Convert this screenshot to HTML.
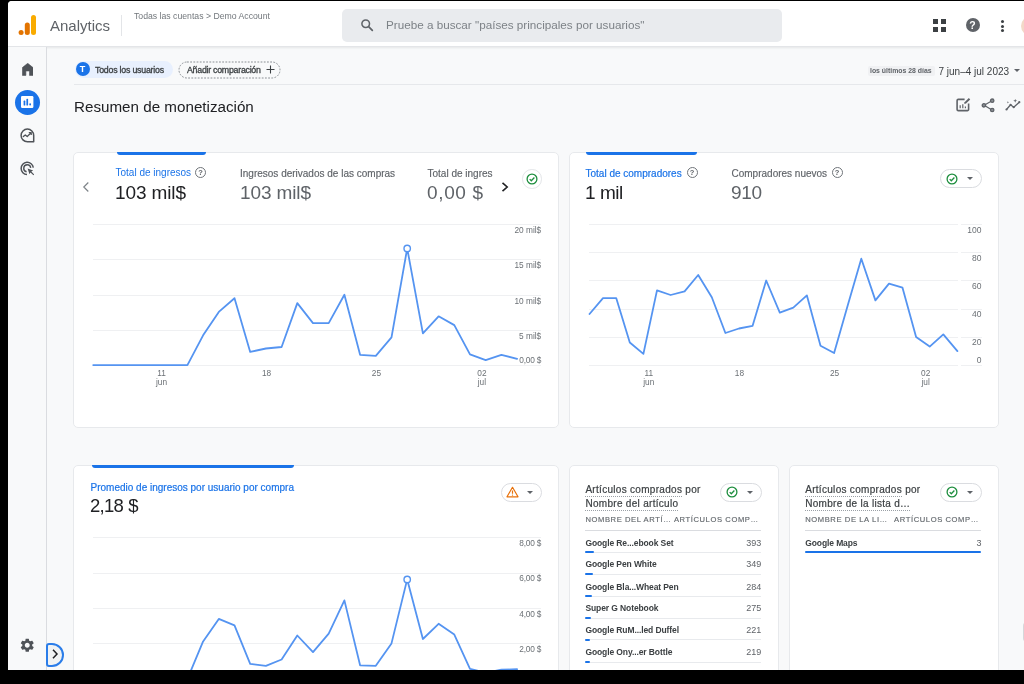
<!DOCTYPE html>
<html lang="es">
<head>
<meta charset="utf-8">
<title>Analytics</title>
<style>
*{box-sizing:border-box;margin:0;padding:0}
html,body{width:1024px;height:684px;overflow:hidden;background:#000;font-family:"Liberation Sans",sans-serif;color:#202124}
.abs{position:absolute}
#app{position:absolute;left:8px;top:1px;width:1036px;height:669px;background:#f8f9fa;border-top-left-radius:4px;overflow:hidden}
#pg{position:absolute;left:-8px;top:-1px;width:1024px;height:684px}
#blur{position:absolute;left:-20px;top:-20px;width:1064px;height:724px;background:#000;filter:blur(.6px)}
#in{position:absolute;left:20px;top:20px;width:1044px;height:704px}
#hdr{position:absolute;left:0;top:0;width:1044px;height:47px;background:#fff;border-bottom:1px solid #e3e5e8;box-shadow:0 1px 2px rgba(60,64,67,.10)}
#side{position:absolute;left:0;top:47px;width:47px;height:640px;background:#f8f9fa;border-right:1px solid #dadce0}
.t{position:absolute;white-space:nowrap;line-height:1}
.card{position:absolute;background:#fff;border:1px solid #e7e9ec;border-radius:5px}
.tab{position:absolute;height:3px;background:#1a73e8;border-radius:0 0 3px 3px}
.gl{position:absolute;height:1px;background:#eff0f2}
.ax{position:absolute;white-space:nowrap;font-size:8.300px;line-height:1;color:#6b7075}
.axr{text-align:right}
.axc{text-align:center;width:30px;margin-left:-15px}
.pill{position:absolute;border:1px solid #dadce0;border-radius:10px;background:#fff}
.caret{position:absolute;width:0;height:0;border-left:3px solid transparent;border-right:3px solid transparent;border-top:3.5px solid #5f6368}
.row{position:absolute;font-size:9px;line-height:1;color:#202124;white-space:nowrap}
.sep{position:absolute;height:1px;background:#e8eaed}
.bar{position:absolute;height:2px;background:#1a73e8;border-radius:1px}
.help{position:absolute;width:11px;height:11px;border-radius:50%;border:1px solid #70757a}
.help:after{content:"?";position:absolute;left:0;top:0;width:9px;height:9px;text-align:center;font-size:7.500px;line-height:9.500px;color:#5f6368;font-weight:bold}
.ttl{font-size:10px;color:#3c4043;letter-spacing:.3px;-webkit-text-stroke:.2px #3c4043}
.ttl u{text-decoration:none;border-bottom:1px dotted #9aa0a6;padding-bottom:1px}
.th{font-size:7.600px;color:#63686d;letter-spacing:.6px;-webkit-text-stroke:.15px #63686d}
.rn{font-weight:bold;font-size:8.500px;color:#3c4043;letter-spacing:-.1px}
.rv{font-size:9px;color:#5f6368}
</style>
</head>
<body>
<div id="blur"><div id="in">
<div id="app"><div id="pg">
<!-- HEADER -->
<div id="hdr">
  <svg class="abs" style="left:18px;top:14px" width="20" height="22" viewBox="0 0 20 22">
    <rect x="13" y="1" width="5" height="20" rx="2.500" fill="#f9ab00"/>
    <rect x="6.800" y="8.500" width="5" height="12.500" rx="2.500" fill="#e37400"/>
    <circle cx="3.100" cy="18.500" r="2.500" fill="#e37400"/>
  </svg>
  <div class="t" style="left:50px;top:18px;font-size:15px;color:#5f6368">Analytics</div>
  <div class="abs" style="left:121px;top:15px;width:1px;height:21px;background:#e3e5e8"></div>
  <div class="t" style="left:134px;top:12px;font-size:8.700px;color:#72777c">Todas las cuentas &gt; Demo Account</div>
  <div class="abs" style="left:342px;top:9px;width:440px;height:33px;background:#e9ebee;border-radius:5px"></div>
  <svg class="abs" style="left:360px;top:18px" width="14.500" height="14.500" viewBox="0 0 16 16"><circle cx="6.3" cy="6.3" r="4.2" fill="none" stroke="#5f6368" stroke-width="1.7"/><path d="M9.5 9.5 L13.6 13.6" stroke="#5f6368" stroke-width="1.9" stroke-linecap="round"/></svg>
  <div class="t" style="left:386px;top:19px;font-size:11.700px;color:#7d8287">Pruebe a buscar "países principales por usuarios"</div>
  <!-- apps grid -->
  <svg class="abs" style="left:933px;top:19px" width="13" height="13" viewBox="0 0 13 13"><g fill="#3c4043"><rect x="0" y="0" width="5" height="5"/><rect x="8" y="0" width="5" height="5"/><rect x="0" y="8" width="5" height="5"/><rect x="8" y="8" width="5" height="5"/></g></svg>
  <!-- help -->
  <div class="abs" style="left:965.5px;top:18px;width:14px;height:14px;border-radius:50%;background:#5f6368"></div>
  <div class="t" style="left:965.5px;top:20px;width:14px;text-align:center;font-size:10.5px;font-weight:bold;color:#fff">?</div>
  <!-- dots -->
  <div class="abs" style="left:1001.2px;top:20.1px;width:3px;height:3px;border-radius:50%;background:#3c4043"></div>
  <div class="abs" style="left:1001.2px;top:24.5px;width:3px;height:3px;border-radius:50%;background:#3c4043"></div>
  <div class="abs" style="left:1001.2px;top:28.9px;width:3px;height:3px;border-radius:50%;background:#3c4043"></div>
  <div class="abs" style="left:1021px;top:16px;width:20px;height:20px;border-radius:50%;background:#f3d9c8"></div>
</div>
<!-- SIDEBAR -->
<div id="side"></div>
<!-- home -->
<svg class="abs" style="left:21.700px;top:63px" width="11.400" height="13" viewBox="0 0 12 13" preserveAspectRatio="none"><path d="M6 0.3 L11.6 4.6 V12.4 H7.9 V8 H4.1 V12.4 H0.4 V4.6 Z" fill="#4f5358" stroke="#4f5358" stroke-width=".6" stroke-linejoin="round"/></svg>
<!-- reports active -->
<div class="abs" style="left:15px;top:89.6px;width:25px;height:25px;border-radius:50%;background:#1a73e8"></div>
<svg class="abs" style="left:21.3px;top:95.8px" width="12.4" height="12" viewBox="0 0 12.4 12"><rect x="0" y="0" width="12.4" height="12" rx="1.2" fill="#fff"/><rect x="2.6" y="4.6" width="1.7" height="4.9" rx=".6" fill="#1a73e8"/><rect x="5.4" y="2.8" width="1.7" height="6.7" rx=".6" fill="#1a73e8"/><rect x="8.3" y="7.2" width="1.7" height="2.3" rx=".8" fill="#1a73e8"/></svg>
<!-- explore -->
<svg class="abs" style="left:20px;top:127.6px" width="15" height="15" viewBox="0 0 15 15"><path d="M7.4 1.1 A6.3 6.3 0 1 0 7.4 13.7 H13.7 V7.4 A6.3 6.3 0 0 0 7.4 1.1 Z" fill="none" stroke="#4f5358" stroke-width="1.500" stroke-linejoin="round"/><path d="M3.3 8.6 L5.3 6.9 L7.2 8.5 L10.6 5.2" fill="none" stroke="#4f5358" stroke-width="1.3" stroke-linecap="round" stroke-linejoin="round"/><path d="M8.8 4.6 H11.2 V7" fill="none" stroke="#4f5358" stroke-width="1.3" stroke-linejoin="round"/></svg>
<!-- advertising -->
<svg class="abs" style="left:20px;top:160.5px" width="15" height="15" viewBox="0 0 15 15"><path d="M13.300 6.700 A6.100 6.100 0 1 0 7 13.500" fill="none" stroke="#4f5358" stroke-width="1.500"/><path d="M10.700 6.800 A3.500 3.500 0 1 0 6.600 10.700" fill="none" stroke="#4f5358" stroke-width="1.400"/><path d="M7.6 7.6 L13.2 9.6 L11.3 10.6 L14.2 13.5 L13.4 14.3 L10.5 11.4 L9.5 13.2 Z" fill="#4f5358"/></svg>
<!-- gear -->
<svg class="abs" style="left:19.150px;top:636.750px" width="16.500" height="16.500" viewBox="0 0 24 24"><path fill="#4f5358" d="M19.14 12.94c.04-.3.06-.61.06-.94 0-.32-.02-.64-.07-.94l2.03-1.58a.49.49 0 0 0 .12-.61l-1.92-3.32a.488.488 0 0 0-.59-.22l-2.39.96c-.5-.38-1.03-.7-1.62-.94l-.36-2.54a.484.484 0 0 0-.48-.41h-3.84c-.24 0-.43.17-.47.41l-.36 2.54c-.59.24-1.13.57-1.62.94l-2.39-.96c-.22-.08-.47 0-.59.22L2.74 8.87c-.12.21-.08.47.12.61l2.03 1.58c-.05.3-.09.63-.09.94s.02.64.07.94l-2.03 1.58a.49.49 0 0 0-.12.61l1.92 3.32c.12.22.37.29.59.22l2.39-.96c.5.38 1.03.7 1.62.94l.36 2.54c.05.24.24.41.48.41h3.84c.24 0 .44-.17.47-.41l.36-2.54c.59-.24 1.13-.56 1.62-.94l2.39.96c.22.08.47 0 .59-.22l1.92-3.32c.12-.22.07-.47-.12-.61l-2.01-1.58zM12 15.6c-1.98 0-3.600-1.62-3.600-3.600s1.620-3.600 3.600-3.600 3.600 1.620 3.600 3.600-1.620 3.600-3.600 3.600z"/></svg>
<!-- collapse -->
<div class="abs" style="left:46px;top:643px;width:18px;height:23.5px;border:2px solid #2b7de9;border-radius:3px 12px 12px 3px;background:#f1f3f4"></div>
<svg class="abs" style="left:51px;top:648px" width="8" height="12" viewBox="0 0 8 12"><path d="M2 1.8 L6 6 L2 10.2" fill="none" stroke="#202124" stroke-width="1.5"/></svg>

<!-- TOOLBAR -->
<div class="abs" style="left:75px;top:61px;width:98px;height:16.5px;border-radius:9px;background:#e8f0fe"></div>
<div class="abs" style="left:75.5px;top:62px;width:14px;height:14px;border-radius:50%;background:#1a73e8"></div>
<div class="t" style="left:75.500px;top:64.800px;width:14px;text-align:center;font-size:9px;font-weight:bold;color:#fff">T</div>
<div class="t" id="tu" style="left:95px;top:65.600px;font-size:8.800px;color:#3c4043;letter-spacing:-.22px;-webkit-text-stroke:.3px #3c4043">Todos los usuarios</div>
<svg class="abs" style="left:177.500px;top:60.500px" width="104" height="18" viewBox="0 0 104 18"><rect x="1" y="1" width="101" height="16" rx="8" fill="none" stroke="#8a8f94" stroke-width="1" stroke-dasharray="1.800 1.400"/></svg>
<div class="t" id="ac" style="left:187px;top:65.600px;font-size:8.800px;color:#3c4043;letter-spacing:-.255px;-webkit-text-stroke:.3px #3c4043">Añadir comparación</div>
<svg class="abs" style="left:266px;top:64.5px" width="9" height="9" viewBox="0 0 9 9"><path d="M4.5 0.5 V8.5 M0.5 4.5 H8.5" stroke="#3c4043" stroke-width="1.1"/></svg>
<div class="abs" style="left:867.5px;top:65.5px;width:67px;height:10.5px;background:#f0f1f3;border-radius:2px"></div>
<div class="t" style="left:870px;top:67.5px;font-size:6.900px;font-weight:bold;color:#5f6368">los últimos 28 días</div>
<div class="t" style="left:938.5px;top:66.700px;font-size:10px;color:#3c4043">7 jun–4 jul 2023</div>
<div class="caret" style="left:1013.6px;top:69px"></div>
<div class="abs" style="left:74px;top:84px;width:980px;height:1px;background:#e6e8eb"></div>
<div class="t" style="left:74px;top:99px;font-size:15.200px;color:#202124">Resumen de monetización</div>
<!-- title icons -->
<svg class="abs" style="left:956px;top:97px" width="15" height="15" viewBox="0 0 15 15"><path d="M8.6 2.4 H2.3 A1.2 1.2 0 0 0 1.1 3.600 V12.400 A1.200 1.200 0 0 0 2.300 13.600 H11.400 A1.200 1.200 0 0 0 12.600 12.400 V6.600" fill="none" stroke="#5f6368" stroke-width="1.600"/><path d="M4.200 11.200 V8.300 M6.800 11.200 V7.200 M9.400 11.200 V9.500" stroke="#5f6368" stroke-width="1.2"/><path d="M8.300 6.900 L8.600 5.200 L12.800 1 L14.200 2.400 L10 6.600 Z" fill="#5f6368"/></svg>
<svg class="abs" style="left:981px;top:97.500px" width="14" height="15" viewBox="0 0 14 15"><path d="M11 2.800 L3.200 7.300 L11 11.900" fill="none" stroke="#5f6368" stroke-width="1.200"/><circle cx="11.200" cy="2.700" r="1.700" fill="#8a8f94" stroke="#5f6368" stroke-width="1.300"/><circle cx="2.900" cy="7.300" r="1.700" fill="#8a8f94" stroke="#5f6368" stroke-width="1.300"/><circle cx="11.200" cy="12" r="1.700" fill="#8a8f94" stroke="#5f6368" stroke-width="1.300"/></svg>
<svg class="abs" style="left:1005px;top:98px" width="16" height="14" viewBox="0 0 16 14"><path d="M1.500 11.500 L5.600 6.800 L8.700 9.200 L14.300 4.200" fill="none" stroke="#5f6368" stroke-width="1.300" stroke-linejoin="round"/><circle cx="1.500" cy="11.500" r="1.100" fill="#5f6368"/><circle cx="5.600" cy="6.800" r="1.100" fill="#5f6368"/><circle cx="8.700" cy="9.200" r="1.100" fill="#5f6368"/><circle cx="14.300" cy="4.200" r="1.100" fill="#5f6368"/><path d="M10.200 0.800 L10.700 2.300 L12.200 2.800 L10.700 3.300 L10.200 4.800 L9.700 3.300 L8.200 2.800 L9.700 2.300 Z" fill="#5f6368"/><path d="M2.900 3 L3.200 3.900 L4.100 4.200 L3.200 4.500 L2.900 5.400 L2.600 4.500 L1.700 4.200 L2.600 3.900 Z" fill="#5f6368"/></svg>
<!-- CARDS -->
<div class="card" style="left:73px;top:152px;width:486px;height:276px"></div>
<div class="tab" style="left:116.5px;top:151.5px;width:89px"></div>
<svg class="abs" style="left:82px;top:181px" width="8" height="12" viewBox="0 0 8 12"><path d="M6.3 1.5 L1.8 6 L6.3 10.500" fill="none" stroke="#80868b" stroke-width="1.200"/></svg>
<div class="t" style="left:115.5px;top:167.5px;font-size:10px;color:#1a73e8">Total de ingresos</div>
<div class="help" style="left:195px;top:167px"></div>
<div class="t" style="left:115px;top:182.500px;font-size:19px;letter-spacing:-.12px;color:#202124">103 mil$</div>
<div class="t" style="left:240px;top:168.900px;font-size:10px;-webkit-text-stroke:.15px #5f6368;color:#5f6368">Ingresos derivados de las compras</div>
<div class="t" style="left:240px;top:182.500px;font-size:19px;letter-spacing:-.12px;color:#5f6368">103 mil$</div>
<div class="t" style="left:427.500px;top:168.900px;font-size:10px;-webkit-text-stroke:.15px #5f6368;color:#5f6368">Total de ingres</div>
<div class="t" style="left:427px;top:182.500px;font-size:19px;letter-spacing:.65px;color:#5f6368">0,00 $</div>
<svg class="abs" style="left:500px;top:181px" width="10" height="12" viewBox="0 0 10 12"><path d="M2.500 1.800 L7.200 6 L2.500 10.200" fill="none" stroke="#202124" stroke-width="1.600"/></svg>
<div class="abs" style="left:522px;top:169px;width:19.500px;height:19.500px;border-radius:50%;border:1px solid #e3e5e8;background:#fff"></div>
<svg class="abs chk" style="left:525.700px;top:172.700px" width="12" height="12" viewBox="0 0 12 12"><circle cx="6" cy="6" r="4.900" fill="none" stroke="#1e8e3e" stroke-width="1.300"/><path d="M3.700 6.100 L5.300 7.700 L8.400 4.500" fill="none" stroke="#1e8e3e" stroke-width="1.300"/></svg>
<div class="gl" style="left:93px;top:224.0px;width:448px"></div>
<div class="gl" style="left:93px;top:259.3px;width:448px"></div>
<div class="gl" style="left:93px;top:294.6px;width:448px"></div>
<div class="gl" style="left:93px;top:329.9px;width:448px"></div>
<div class="gl" style="left:93px;top:365.1px;width:448px"></div>
<div class="ax axr" style="right:482.8px;top:225.8px;letter-spacing:0">20 mil$</div>
<div class="ax axr" style="right:482.8px;top:261.0px;letter-spacing:0">15 mil$</div>
<div class="ax axr" style="right:482.8px;top:296.5px;letter-spacing:0">10 mil$</div>
<div class="ax axr" style="right:482.8px;top:331.8px;letter-spacing:0">5 mil$</div>
<div class="ax axr" style="right:482.8px;top:355.7px;letter-spacing:-.2px">0,00 $</div>
<div class="ax axc" style="left:161.5px;top:369px">11</div>
<div class="ax axc" style="left:161.5px;top:377.800px">jun</div>
<div class="ax axc" style="left:266.5px;top:369px">18</div>
<div class="ax axc" style="left:376.4px;top:369px">25</div>
<div class="ax axc" style="left:481.9px;top:369px">02</div>
<div class="ax axc" style="left:481.9px;top:377.800px">jul</div>
<svg class="abs" style="left:0;top:0" width="1024" height="684">
<polyline points="93.2,365.1 108.9,365.1 124.6,365.1 140.3,365.1 156.0,365.1 171.7,365.1 187.4,365.1 203.1,335.3 218.8,311.9 234.5,298.2 250.2,351.9 265.9,348.5 281.6,347.0 297.3,303.1 313.0,323.1 328.7,323.1 344.4,294.8 360.1,354.8 375.8,355.8 391.5,337.3 407.2,248.4 422.9,333.4 438.6,316.3 454.3,325.1 470.0,354.4 485.7,360.2 501.4,354.8 517.1,358.8" fill="none" stroke="#5594f1" stroke-width="1.8" stroke-linejoin="round" stroke-linecap="round"/>
<circle cx="407.2" cy="248.4" r="3.2" fill="#fff" stroke="#5594f1" stroke-width="1.400"/>
</svg>
<div class="card" style="left:569px;top:152px;width:430px;height:276px"></div>
<div class="tab" style="left:586px;top:151.500px;width:111px"></div>
<div class="t" style="left:585.500px;top:168.900px;font-size:10px;-webkit-text-stroke:.2px #1a73e8;color:#1a73e8">Total de compradores</div>
<div class="help" style="left:686.500px;top:167px"></div>
<div class="t" style="left:585px;top:182.500px;font-size:19px;letter-spacing:-.45px;color:#202124">1 mil</div>
<div class="t" style="left:731.500px;top:168.900px;font-size:10px;-webkit-text-stroke:.15px #5f6368;color:#5f6368">Compradores nuevos</div>
<div class="help" style="left:831.500px;top:167px"></div>
<div class="t" style="left:731px;top:182.500px;font-size:19px;letter-spacing:-.3px;color:#5f6368">910</div>
<div class="pill" style="left:940px;top:169px;width:41.500px;height:19px"></div>
<svg class="abs chk" style="left:945.500px;top:172.500px" width="12" height="12" viewBox="0 0 12 12"><circle cx="6" cy="6" r="4.900" fill="none" stroke="#1e8e3e" stroke-width="1.300"/><path d="M3.700 6.100 L5.300 7.700 L8.400 4.500" fill="none" stroke="#1e8e3e" stroke-width="1.300"/></svg>
<div class="caret" style="left:966.500px;top:177px"></div>
<div class="gl" style="left:588.500px;top:224.2px;width:369.500px"></div>
<div class="gl" style="left:961px;top:224.2px;width:20.500px"></div>
<div class="gl" style="left:588.500px;top:252.3px;width:369.500px"></div>
<div class="gl" style="left:961px;top:252.3px;width:20.500px"></div>
<div class="gl" style="left:588.500px;top:280.4px;width:369.500px"></div>
<div class="gl" style="left:961px;top:280.4px;width:20.500px"></div>
<div class="gl" style="left:588.500px;top:308.5px;width:369.500px"></div>
<div class="gl" style="left:961px;top:308.5px;width:20.500px"></div>
<div class="gl" style="left:588.500px;top:336.6px;width:369.500px"></div>
<div class="gl" style="left:961px;top:336.6px;width:20.500px"></div>
<div class="gl" style="left:588.500px;top:364.7px;width:369.500px"></div>
<div class="gl" style="left:961px;top:364.7px;width:20.500px"></div>
<div class="ax axr" style="right:42.6px;top:225.5px;font-size:8.500px">100</div>
<div class="ax axr" style="right:42.6px;top:254.1px;font-size:8.500px">80</div>
<div class="ax axr" style="right:42.6px;top:282.2px;font-size:8.500px">60</div>
<div class="ax axr" style="right:42.6px;top:310.2px;font-size:8.500px">40</div>
<div class="ax axr" style="right:42.6px;top:338.3px;font-size:8.500px">20</div>
<div class="ax axr" style="right:42.6px;top:355.6px;font-size:8.500px">0</div>
<div class="ax axc" style="left:648.8px;top:369px">11</div>
<div class="ax axc" style="left:648.8px;top:377.800px">jun</div>
<div class="ax axc" style="left:739.4px;top:369px">18</div>
<div class="ax axc" style="left:834.6px;top:369px">25</div>
<div class="ax axc" style="left:925.7px;top:369px">02</div>
<div class="ax axc" style="left:925.7px;top:377.800px">jul</div>
<svg class="abs" style="left:0;top:0" width="1024" height="684"><polyline points="589.5,314.0 603.0,298.1 616.2,298.1 629.8,342.5 643.4,353.9 657.0,290.4 670.6,295.0 684.6,291.3 698.2,275.0 711.8,297.2 725.4,333.0 739.0,328.5 752.6,325.8 766.2,280.5 779.8,312.6 793.3,307.6 806.9,295.4 820.5,345.7 834.1,353.0 847.7,305.4 861.3,258.7 875.4,300.4 889.0,283.6 902.5,287.7 916.1,337.1 929.7,346.6 943.3,334.4 957.4,351.1" fill="none" stroke="#5594f1" stroke-width="1.8" stroke-linejoin="round" stroke-linecap="round"/></svg>
<div class="card" style="left:73px;top:465px;width:486px;height:276px"></div>
<div class="tab" style="left:91.700px;top:464.500px;width:202.500px"></div>
<div class="t" style="left:90.500px;top:482.600px;font-size:10px;-webkit-text-stroke:.2px #1a73e8;color:#1a73e8">Promedio de ingresos por usuario por compra</div>
<div class="t" style="left:90px;top:496.800px;font-size:18.500px;word-spacing:.5px;letter-spacing:-.7px;color:#202124">2,18 $</div>
<div class="pill" style="left:500.500px;top:482.500px;width:41px;height:19px"></div>
<svg class="abs" style="left:505.500px;top:485.500px" width="13" height="12" viewBox="0 0 13 12"><path d="M6.500 1.300 L12 10.800 H1 Z" fill="none" stroke="#e8710a" stroke-width="1.200" stroke-linejoin="round"/><path d="M6.500 4.600 V7.700" stroke="#e8710a" stroke-width="1.200"/><circle cx="6.500" cy="9.100" r=".7" fill="#e8710a"/></svg>
<div class="caret" style="left:527px;top:490.500px"></div>
<div class="gl" style="left:93px;top:537.4px;width:448px"></div>
<div class="gl" style="left:93px;top:572.6px;width:448px"></div>
<div class="gl" style="left:93px;top:608.1px;width:448px"></div>
<div class="gl" style="left:93px;top:643.3px;width:448px"></div>
<div class="ax axr" style="right:482.8px;top:539.3px;letter-spacing:-.2px">8,00 $</div>
<div class="ax axr" style="right:482.8px;top:574.4px;letter-spacing:-.2px">6,00 $</div>
<div class="ax axr" style="right:482.8px;top:609.6px;letter-spacing:-.2px">4,00 $</div>
<div class="ax axr" style="right:482.8px;top:644.7px;letter-spacing:-.2px">2,00 $</div>
<svg class="abs" style="left:0;top:0" width="1024" height="684">
<polyline points="93.2,679.0 108.9,679.0 124.6,679.0 140.3,679.0 156.0,679.0 171.7,679.0 187.4,679.0 203.1,641.4 218.8,618.9 234.5,625.3 250.2,663.9 265.9,665.8 281.6,659.5 297.3,635.5 313.0,652.1 328.7,633.6 344.4,600.4 360.1,665.3 375.8,665.8 391.5,643.4 407.2,579.4 422.9,639.0 438.6,623.8 454.3,634.6 470.0,668.8 485.7,672.7 501.4,669.7 517.1,669.2" fill="none" stroke="#5594f1" stroke-width="1.8" stroke-linejoin="round" stroke-linecap="round"/>
<circle cx="407.2" cy="579.4" r="3.200" fill="#fff" stroke="#5594f1" stroke-width="1.400"/>
</svg>
<div class="card" style="left:569px;top:465px;width:210px;height:276px"></div>
<div class="t ttl" style="left:585.4px;top:484.500px"><u>Artículos comprados</u> por</div>
<div class="t ttl" style="left:585.4px;top:498.700px"><u>Nombre del artículo</u></div>
<div class="pill" style="left:720.0px;top:482.500px;width:41.500px;height:19px"></div>
<svg class="abs chk" style="left:725.5px;top:486px" width="12" height="12" viewBox="0 0 12 12"><circle cx="6" cy="6" r="4.900" fill="none" stroke="#1e8e3e" stroke-width="1.300"/><path d="M3.700 6.100 L5.300 7.700 L8.400 4.500" fill="none" stroke="#1e8e3e" stroke-width="1.300"/></svg>
<div class="caret" style="left:746.5px;top:490.500px"></div>
<div class="t th" style="left:585.4px;top:516px">NOMBRE DEL ARTÍ…</div>
<div class="t th" style="right:265.3px;top:516px">ARTÍCULOS COMP…</div>
<div class="sep" style="left:585.4px;top:530px;width:175.8px;background:#dadce0"></div>
<div class="row rn" style="left:585.4px;top:538.5px">Google Re...ebook Set</div>
<div class="row rv" style="right:262.8px;top:538.5px">393</div>
<div class="sep" style="left:585.4px;top:551.9px;width:175.8px"></div>
<div class="bar" style="left:585.4px;top:551.4px;width:8.6px"></div>
<div class="row rn" style="left:585.4px;top:560.3px">Google Pen White</div>
<div class="row rv" style="right:262.8px;top:560.3px">349</div>
<div class="sep" style="left:585.4px;top:573.6px;width:175.8px"></div>
<div class="bar" style="left:585.4px;top:573.1px;width:7.7px"></div>
<div class="row rn" style="left:585.4px;top:582.5px">Google Bla...Wheat Pen</div>
<div class="row rv" style="right:262.8px;top:582.5px">284</div>
<div class="sep" style="left:585.4px;top:595.9px;width:175.8px"></div>
<div class="bar" style="left:585.4px;top:595.4px;width:6.3px"></div>
<div class="row rn" style="left:585.4px;top:604.2px">Super G Notebook</div>
<div class="row rv" style="right:262.8px;top:604.2px">275</div>
<div class="sep" style="left:585.4px;top:617.6px;width:175.8px"></div>
<div class="bar" style="left:585.4px;top:617.1px;width:6.0px"></div>
<div class="row rn" style="left:585.4px;top:626.4px">Google RuM...led Duffel</div>
<div class="row rv" style="right:262.8px;top:626.4px">221</div>
<div class="sep" style="left:585.4px;top:639.4px;width:175.8px"></div>
<div class="bar" style="left:585.4px;top:638.9px;width:5.0px"></div>
<div class="row rn" style="left:585.4px;top:648.2px">Google Ony...er Bottle</div>
<div class="row rv" style="right:262.8px;top:648.2px">219</div>
<div class="sep" style="left:585.4px;top:661.5px;width:175.8px"></div>
<div class="bar" style="left:585.4px;top:661.0px;width:5.0px"></div>
<div class="card" style="left:789px;top:465px;width:210px;height:276px"></div>
<div class="t ttl" style="left:805.2px;top:484.500px"><u>Artículos comprados</u> por</div>
<div class="t ttl" style="left:805.2px;top:498.700px"><u>Nombre de la lista d…</u></div>
<div class="pill" style="left:940.0px;top:482.500px;width:41.500px;height:19px"></div>
<svg class="abs chk" style="left:945.5px;top:486px" width="12" height="12" viewBox="0 0 12 12"><circle cx="6" cy="6" r="4.900" fill="none" stroke="#1e8e3e" stroke-width="1.300"/><path d="M3.700 6.100 L5.300 7.700 L8.400 4.500" fill="none" stroke="#1e8e3e" stroke-width="1.300"/></svg>
<div class="caret" style="left:966.5px;top:490.500px"></div>
<div class="t th" style="left:805.2px;top:516px">NOMBRE DE LA LI…</div>
<div class="t th" style="right:45.1px;top:516px">ARTÍCULOS COMP…</div>
<div class="sep" style="left:805.2px;top:530px;width:176.2px;background:#dadce0"></div>
<div class="row rn" style="left:805.2px;top:538.5px">Google Maps</div>
<div class="row rv" style="right:42.6px;top:538.5px">3</div>
<div class="sep" style="left:805.2px;top:551.9px;width:176.2px"></div>
<div class="bar" style="left:805.2px;top:551.4px;width:176.2px"></div>
<div class="abs" style="left:1022.500px;top:622px;width:8px;height:20px;border-radius:4px;background:#d5d7da"></div>
</div></div>
</div></div>
</body>
</html>
